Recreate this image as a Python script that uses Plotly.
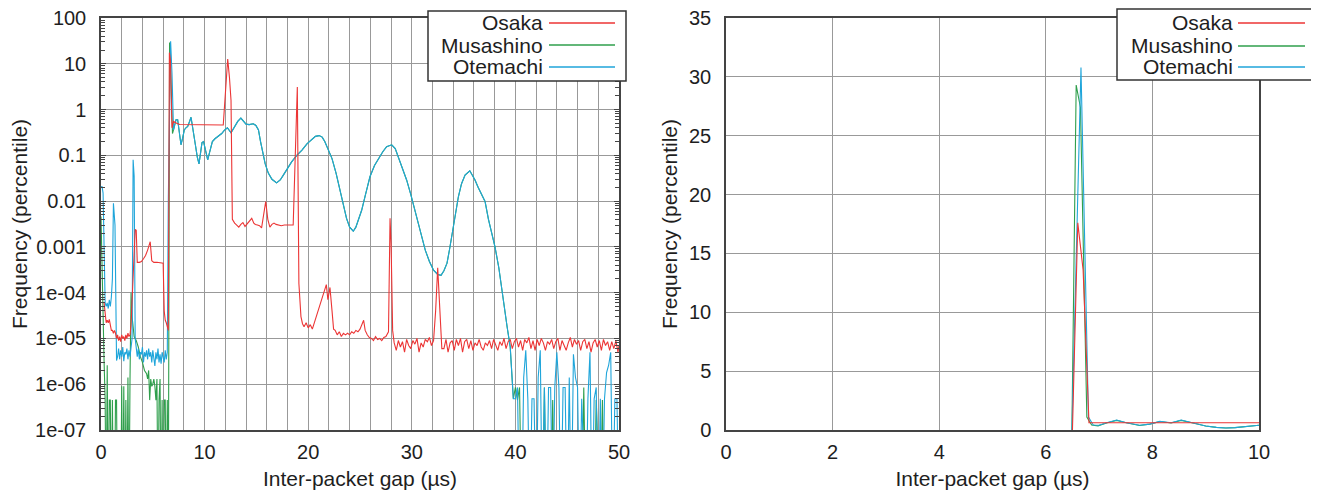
import plotly.graph_objects as go

# ---------------- data ----------------
SERIES = ["Osaka", "Musashino", "Otemachi"]
COLORS = {"Osaka": "#ec3535", "Musashino": "#2f9f4c", "Otemachi": "#1fa5da"}

# Left panel (log scale), (gap in us, frequency in percentile); 0 means "no packets"
OSAKA_LOG = [
    (0.3, 6e-5), (0.4, 4e-5), (0.5, 2.2e-5), (0.6, 2.5e-5), (0.7, 2.2e-5), (0.8, 2.6e-5),
    (0.9, 1.8e-5), (1.0, 1.5e-5), (1.1, 1.5e-5), (1.2, 1.3e-5), (1.3, 1.5e-5), (1.4, 1.3e-5),
    (1.5, 1.0e-5), (1.6, 1.2e-5), (1.7, 9e-6), (1.8, 1.1e-5), (1.9, 8.5e-6), (2.0, 1.2e-5),
    (2.1, 1.0e-5), (2.2, 1.1e-5), (2.3, 9e-6), (2.4, 1.2e-5), (2.5, 1.0e-5), (2.6, 1.3e-5),
    (2.7, 1.1e-5), (2.8, 1.2e-5), (2.9, 2e-5), (3.0, 6e-5), (3.1, 2.5e-4), (3.2, 9e-4),
    (3.3, 2.4e-3), (3.4, 2.3e-3), (3.5, 4.6e-4), (3.7, 4.6e-4), (3.9, 4.8e-4), (4.1, 5.5e-4),
    (4.3, 6.5e-4), (4.5, 8.5e-4), (4.75, 1.3e-3), (4.9, 5e-4), (5.1, 4.6e-4), (5.4, 4.6e-4),
    (5.7, 4.5e-4), (6.0, 4.4e-4), (6.1, 4e-5), (6.2, 2.5e-5), (6.3, 2.2e-5), (6.4, 1.8e-5),
    (6.5, 1.5e-5), (6.6, 17.5), (6.7, 12.0), (6.85, 0.4), (7.0, 0.55), (7.3, 0.5), (7.6, 0.47),
    (11.8, 0.46), (12.23, 12.7), (12.4, 5.0), (12.55, 1.6), (12.68, 0.004), (12.9, 0.0033),
    (13.1, 0.003), (13.3, 0.0027), (13.5, 0.0031), (13.7, 0.0034), (13.9, 0.0028), (14.1, 0.0032),
    (14.3, 0.0036), (14.55, 0.0042), (14.75, 0.0033), (14.9, 0.0031), (15.1, 0.003), (15.3, 0.0029),
    (15.5, 0.0026), (15.7, 0.005), (15.9, 0.0098), (16.1, 0.004), (16.3, 0.0027), (16.5, 0.0031),
    (16.7, 0.0033), (16.9, 0.0031), (17.1, 0.003), (17.4, 0.0029), (17.7, 0.003), (18.0, 0.003),
    (18.3, 0.0029), (18.55, 0.003), (18.95, 3.1), (19.1, 1.6e-4), (19.3, 3e-5), (19.45, 2.1e-5),
    (19.6, 1.8e-5), (19.8, 2.2e-5), (20.0, 1.7e-5), (20.2, 2.0e-5), (20.4, 1.6e-5), (20.6, 2.2e-5),
    (20.8, 3e-5), (21.0, 4.5e-5), (21.2, 6e-5), (21.4, 8e-5), (21.6, 1.1e-4), (21.75, 1.5e-4),
    (21.9, 7e-5), (22.1, 1.3e-4), (22.3, 4e-5), (22.45, 1.6e-5), (22.6, 1.5e-5), (22.8, 1.2e-5),
    (23.0, 1.4e-5), (23.2, 1.1e-5), (23.4, 1.3e-5), (23.6, 1.2e-5), (23.8, 1.3e-5), (24.0, 1.2e-5),
    (24.2, 1.4e-5), (24.4, 1.3e-5), (24.6, 1.5e-5), (24.8, 1.4e-5), (25.0, 1.6e-5), (25.2, 2.2e-5),
    (25.35, 2.5e-5), (25.5, 1.5e-5), (25.7, 1.2e-5), (25.9, 1.05e-5), (26.1, 1.0e-5), (26.3, 9e-6),
    (26.5, 1.1e-5), (26.7, 9.5e-6), (26.9, 1.0e-5), (27.1, 9e-6), (27.3, 1.05e-5), (27.5, 1.1e-5),
    (27.75, 1.4e-5), (27.9, 4.2e-3), (28.0, 1.2e-3), (28.15, 1.5e-5), (28.3, 8e-6), (28.5, 5.5e-6),
    (28.7, 9e-6), (28.9, 6.5e-6), (29.1, 8.5e-6), (29.3, 5e-6), (29.5, 9.5e-6), (29.7, 7e-6),
    (29.9, 6e-6), (30.1, 9e-6), (30.3, 7.5e-6), (30.5, 1e-5), (30.7, 5e-6), (30.9, 8e-6),
    (31.1, 6.5e-6), (31.3, 9.5e-6), (31.5, 8.5e-6), (31.7, 1.05e-5), (31.9, 7e-6), (32.1, 9e-6),
    (32.3, 4e-5), (32.5, 3.5e-4), (32.7, 5e-5), (32.9, 6e-6), (33.1, 6e-6), (33.3, 9.5e-6),
    (33.5, 5e-6), (33.7, 8e-6), (33.9, 9e-6), (34.1, 5.5e-6), (34.3, 9.5e-6), (34.5, 7e-6),
    (34.7, 1e-5), (34.9, 5e-6), (35.1, 8.5e-6), (35.3, 9.5e-6), (35.5, 6e-6), (35.7, 9e-6),
    (35.9, 5.5e-6), (36.1, 8e-6), (36.3, 7e-6), (36.5, 9.5e-6), (36.7, 6.5e-6), (36.9, 5.5e-6),
    (37.1, 8e-6), (37.3, 7e-6), (37.5, 9e-6), (37.7, 6e-6), (37.9, 9.5e-6), (38.1, 7.5e-6),
    (38.3, 5.5e-6), (38.5, 8.5e-6), (38.7, 7e-6), (38.9, 1e-5), (39.1, 6e-6), (39.3, 8.5e-6),
    (39.5, 9.5e-6), (39.7, 6e-6), (39.9, 8.5e-6), (40.1, 1e-5), (40.3, 6.5e-6), (40.5, 9e-6),
    (40.7, 5.5e-6), (40.9, 9.5e-6), (41.1, 8e-6), (41.3, 1.05e-5), (41.5, 6e-6), (41.7, 9e-6),
    (41.9, 5.5e-6), (42.1, 9.5e-6), (42.3, 7e-6), (42.5, 1e-5), (42.7, 8e-6), (42.9, 5.5e-6),
    (43.1, 8.5e-6), (43.3, 7.5e-6), (43.5, 9.5e-6), (43.7, 6e-6), (43.9, 8.5e-6), (44.1, 1e-5),
    (44.3, 5.5e-6), (44.5, 9e-6), (44.7, 7e-6), (44.9, 5.5e-6), (45.1, 8e-6), (45.3, 1.05e-5),
    (45.5, 6.5e-6), (45.7, 9.5e-6), (45.9, 7.5e-6), (46.1, 9e-6), (46.3, 5.5e-6), (46.5, 8.5e-6),
    (46.7, 9.5e-6), (46.9, 6e-6), (47.1, 8.5e-6), (47.3, 5e-6), (47.5, 8e-6), (47.7, 9.5e-6),
    (47.9, 6.5e-6), (48.1, 9e-6), (48.3, 5.5e-6), (48.5, 9.5e-6), (48.7, 7e-6), (48.9, 8.5e-6),
    (49.1, 5.5e-6), (49.3, 8.5e-6), (49.5, 6e-6), (49.7, 9e-6), (49.9, 5e-6), (50.0, 7e-6),
]

MUSASHINO_HEAD = [
    (0.0, 4.6e-3), (0.1, 2e-4), (0.2, 2e-5), (0.3, 3e-6), (0.4, 4.5e-7), (0.5, 0), (0.6, 2.6e-6),
    (0.7, 0), (0.8, 4.5e-7), (0.9, 4.5e-7), (1.0, 0), (1.1, 4.5e-7), (1.2, 0), (1.3, 0),
    (1.4, 4.5e-7), (1.5, 4.5e-7), (1.6, 0), (1.9, 0), (2.0, 9e-7), (2.1, 0), (2.2, 9e-7), (2.3, 0),
    (2.4, 4.5e-7), (2.5, 0), (2.6, 1.4e-6), (2.7, 0), (2.8, 1.3e-6), (2.9, 1e-4), (3.0, 3e-5),
    (3.2, 1.1e-5), (3.4, 9e-6), (3.6, 6.5e-6), (3.8, 4e-6), (4.0, 3e-6), (4.2, 2e-6), (4.4, 1.7e-6),
    (4.5, 1.3e-6), (4.6, 2e-6), (4.7, 4.5e-7), (4.8, 1.3e-6), (4.9, 9e-7), (5.0, 1e-6), (5.1, 1.3e-6),
    (5.2, 9e-7), (5.3, 4.5e-7), (5.4, 1.3e-6), (5.5, 0), (5.6, 4.5e-7), (5.7, 1.3e-6), (5.8, 0),
    (5.9, 4.5e-7), (6.0, 0), (6.1, 4.5e-7), (6.2, 4.5e-7), (6.3, 0), (6.4, 4.5e-7), (6.5, 0),
    (6.62, 29.0), (6.75, 5.0), (6.9, 0.3),
]

OTEMACHI_HEAD = [
    (0.0, 0.02), (0.1, 0.021), (0.2, 0.015), (0.3, 2e-4), (0.4, 6e-5), (0.5, 5e-5), (0.6, 6e-5),
    (0.7, 4.5e-5), (0.8, 7e-5), (0.9, 5e-5), (1.0, 8e-5), (1.1, 2e-4), (1.2, 9e-3), (1.35, 3e-3),
    (1.45, 1e-4), (1.5, 3.3e-6), (1.6, 4e-6), (1.7, 6e-6), (1.8, 3.5e-6), (1.9, 5.5e-6), (2.0, 4e-6),
    (2.1, 6.5e-6), (2.2, 3.2e-6), (2.3, 5e-6), (2.4, 4.5e-6), (2.5, 6e-6), (2.6, 3.5e-6), (2.7, 5.5e-6),
    (2.8, 4e-6), (2.9, 6e-6), (3.0, 1e-5), (3.1, 0.08), (3.2, 0.035), (3.3, 1e-5), (3.4, 5e-6),
    (3.5, 4e-6), (3.6, 6e-6), (3.7, 3.5e-6), (3.8, 5e-6), (3.9, 4.5e-6), (4.0, 6.5e-6), (4.1, 3e-6),
    (4.2, 5e-6), (4.3, 4e-6), (4.4, 5.5e-6), (4.5, 3.5e-6), (4.6, 6e-6), (4.7, 4e-6), (4.8, 5e-6),
    (4.9, 3e-6), (5.0, 5.5e-6), (5.1, 4e-6), (5.2, 2.5e-6), (5.3, 5e-6), (5.4, 3.5e-6), (5.5, 6e-6),
    (5.6, 3e-6), (5.7, 4.5e-6), (5.8, 2.8e-6), (5.9, 5e-6), (6.0, 4e-6), (6.1, 3e-6), (6.2, 5.5e-6),
    (6.3, 3.5e-6), (6.4, 5e-6), (6.5, 0.012), (6.72, 31.0), (6.85, 6.3),
]

# smooth lobe shared by Musashino and Otemachi (the two curves coincide)
SHARED_LOBE = [
    (7.0, 0.36), (7.24, 0.6), (7.4, 0.6), (7.55, 0.35), (7.72, 0.17), (7.9, 0.25), (8.04, 0.36),
    (8.2, 0.4), (8.37, 0.43), (8.55, 0.55), (8.69, 0.68), (8.85, 0.4), (9.07, 0.18), (9.3, 0.09),
    (9.46, 0.065), (9.6, 0.11), (9.75, 0.19), (9.9, 0.2), (10.1, 0.12), (10.3, 0.08), (10.5, 0.12),
    (10.75, 0.2), (11.0, 0.23), (11.3, 0.26), (11.65, 0.3), (11.9, 0.35), (12.2, 0.4), (12.55, 0.31),
    (12.9, 0.42), (13.2, 0.55), (13.5, 0.65), (13.75, 0.55), (14.0, 0.48), (14.3, 0.47), (14.7, 0.49),
    (14.95, 0.45), (15.2, 0.36), (15.4, 0.2), (15.6, 0.11), (15.85, 0.065), (16.15, 0.041),
    (16.5, 0.03), (16.95, 0.025), (17.3, 0.029), (17.6, 0.037), (18.0, 0.052), (18.4, 0.072),
    (18.9, 0.1), (19.4, 0.13), (19.9, 0.18), (20.3, 0.22), (20.7, 0.26), (21.05, 0.27), (21.35, 0.25),
    (21.6, 0.2), (21.95, 0.13), (22.3, 0.085), (22.7, 0.04), (23.1, 0.017), (23.4, 0.0085),
    (23.7, 0.0042), (24.0, 0.0027), (24.35, 0.0022), (24.6, 0.0027), (24.85, 0.0039), (25.16, 0.0063),
    (25.5, 0.013), (25.96, 0.034), (26.4, 0.06), (26.77, 0.085), (27.2, 0.12), (27.57, 0.155),
    (28.06, 0.17), (28.4, 0.14), (28.7, 0.093), (29.1, 0.05), (29.5, 0.029), (29.9, 0.014),
    (30.3, 0.0063), (30.8, 0.0024), (31.3, 0.00085), (31.7, 0.00048), (32.1, 0.00031),
    (32.5, 0.00025), (32.82, 0.00024), (33.1, 0.0003), (33.4, 0.00044), (33.65, 0.0009),
    (33.85, 0.0017), (34.2, 0.005), (34.5, 0.0126), (34.8, 0.024), (35.14, 0.037), (35.6, 0.046),
    (36.1, 0.029), (36.4, 0.02), (36.75, 0.0137), (37.07, 0.0098), (37.4, 0.004), (37.7, 0.002),
    (38.03, 0.001), (38.4, 0.00035), (38.85, 5.7e-5), (39.2, 1.8e-5), (39.5, 6.5e-6), (39.8, 4.8e-7),
]

MUSASHINO_TAIL = [
    (40.0, 8.5e-7), (40.2, 4.5e-7), (40.4, 8.5e-7), (40.6, 0), (42.6, 0), (42.8, 8.5e-7), (43.0, 0),
    (43.4, 0), (43.6, 4.5e-7), (43.8, 0), (46.4, 0), (46.6, 8.5e-7), (46.8, 0), (47.6, 0),
    (47.8, 4.5e-7), (48.0, 0), (48.2, 0), (48.4, 4.5e-7), (48.6, 0), (50.0, 0),
]

OTEMACHI_TAIL = [
    (40.0, 4.8e-7), (40.2, 8.5e-7), (40.4, 0), (40.6, 0), (40.8, 1.4e-6), (41.0, 5.5e-6),
    (41.2, 4.8e-7), (41.4, 0), (41.6, 4.8e-7), (41.8, 4.8e-7), (42.0, 0), (42.2, 1.4e-6),
    (42.4, 5.5e-6), (42.6, 0), (42.8, 8.5e-7), (43.0, 0), (43.2, 8.5e-7), (43.4, 8.5e-7), (43.6, 0),
    (43.8, 8.5e-7), (44.0, 5e-6), (44.2, 8.5e-7), (44.4, 0), (44.6, 8.5e-7), (44.8, 8.5e-7),
    (45.0, 0), (45.2, 1.4e-6), (45.4, 0), (45.6, 4.5e-6), (45.8, 1.4e-6), (46.0, 8.5e-7), (46.2, 0),
    (46.4, 4.8e-7), (46.6, 0), (46.8, 0), (47.0, 4.8e-7), (47.2, 5e-6), (47.4, 0), (47.6, 4.8e-7),
    (47.8, 8.5e-7), (48.0, 0), (48.2, 4.8e-7), (48.4, 0), (48.6, 4.8e-7), (48.8, 1.8e-6),
    (49.0, 2.6e-6), (49.2, 5e-6), (49.4, 0), (49.6, 4.8e-7), (49.8, 4.8e-7), (50.0, 0),
]

MUSASHINO_LOG = MUSASHINO_HEAD + SHARED_LOBE + MUSASHINO_TAIL
OTEMACHI_LOG = OTEMACHI_HEAD + SHARED_LOBE + OTEMACHI_TAIL

# Right panel (linear scale, 0-10 us); values before the main peak are ~0
OSAKA_LIN = [(6.5, 0), (6.6, 17.6), (6.65, 15.6), (6.7, 13.6), (6.81, 0.62), (10.0, 0.62)]
MUSASHINO_LIN = [
    (6.49, 0), (6.57, 29.3), (6.65, 27.4), (6.77, 1.1), (6.86, 0.42), (6.98, 0.35),
    (7.14, 0.6), (7.33, 0.82), (7.51, 0.62), (7.76, 0.38), (7.95, 0.5), (8.14, 0.72), (8.35, 0.6),
    (8.54, 0.82), (8.76, 0.6), (9.0, 0.34), (9.2, 0.22), (9.38, 0.17), (9.55, 0.2), (9.7, 0.28),
    (10.0, 0.4),
]
OTEMACHI_LIN = [
    (6.49, 0), (6.66, 30.8), (6.8, 1.1), (6.89, 0.42), (7.0, 0.4), (7.14, 0.62),
    (7.33, 0.85), (7.51, 0.62), (7.76, 0.4), (7.95, 0.5), (8.14, 0.73), (8.35, 0.62), (8.54, 0.85),
    (8.76, 0.62), (9.0, 0.34), (9.2, 0.22), (9.38, 0.17), (9.55, 0.2), (9.7, 0.28), (10.0, 0.4),
]

LOG_TICK_VALUES = [100, 10, 1, 0.1, 0.01, 0.001, 1e-4, 1e-5, 1e-6, 1e-7]
LOG_TICK_TEXT = ["100", "10", "1", "0.1", "0.01", "0.001", "1e-04", "1e-05", "1e-06", "1e-07"]

# ---------------- figure ----------------
# The page body keeps its default 8 px margin, so the figure is laid out in screen pixels
# shifted by that offset.
OFF = 8
W, H = 1319 - OFF, 492 - OFF
FLOOR = 1e-9  # empty bins drop to the bottom of the log axis
FONT = "Liberation Sans, Arial, Helvetica, sans-serif"
GRID = "#999999"
FRAME = "#444444"
TXT = "#1e1e1e"


def fx(sx):
    return (sx - OFF) / W


def fy(sy):
    return 1 - (sy - OFF) / H


def xs(pairs):
    return [p[0] for p in pairs]


def ys(pairs, floor=None):
    if floor is None:
        return [p[1] for p in pairs]
    return [p[1] if p[1] > 0 else floor for p in pairs]


fig = go.Figure()
left = {"Osaka": OSAKA_LOG, "Musashino": MUSASHINO_LOG, "Otemachi": OTEMACHI_LOG}
right = {"Osaka": OSAKA_LIN, "Musashino": MUSASHINO_LIN, "Otemachi": OTEMACHI_LIN}
for name in ["Musashino", "Otemachi", "Osaka"]:
    fig.add_trace(go.Scatter(x=xs(left[name]), y=ys(left[name], FLOOR), mode="lines", name=name,
                             line=dict(color=COLORS[name], width=1.1), xaxis="x", yaxis="y",
                             showlegend=False))
for name in ["Musashino", "Otemachi", "Osaka"]:
    fig.add_trace(go.Scatter(x=xs(right[name]), y=ys(right[name]), mode="lines", name=name,
                             line=dict(color=COLORS[name], width=1.1), xaxis="x2", yaxis="y2",
                             showlegend=False))

minor_log = [m * 10 ** e for e in range(-7, 2) for m in range(2, 10)]

axis_common = dict(showline=True, linecolor=FRAME, linewidth=1.5, mirror=True, showgrid=True,
                   gridcolor=GRID, gridwidth=1, zeroline=False, automargin=False,
                   ticklabeloverflow="allow",
                   tickfont=dict(family=FONT, size=20, color=TXT),
                   title_font=dict(family=FONT, size=21, color=TXT))

y_dom = [fy(430), fy(18)]
fig.update_layout(
    width=W, height=H, margin=dict(l=0, r=0, t=0, b=0),
    paper_bgcolor="white", plot_bgcolor="white", showlegend=False,
    xaxis=dict(axis_common, domain=[fx(101), fx(619)], range=[0, 50], anchor="y",
               tickmode="array", tickvals=[0, 10, 20, 30, 40, 50], ticks="",
               minor=dict(dtick=2, showgrid=True, gridcolor=GRID, gridwidth=1),
               ticklabelstandoff=3,
               title=dict(text="Inter-packet gap (µs)", standoff=10)),
    yaxis=dict(axis_common, type="log", domain=y_dom, range=[-7, 2], anchor="x",
               tickmode="array", tickvals=LOG_TICK_VALUES, ticktext=LOG_TICK_TEXT,
               ticks="inside", ticklen=5, tickcolor=FRAME, mirror="allticks",
               minor=dict(tickmode="array", tickvals=minor_log, ticks="inside", ticklen=4,
                          tickcolor=FRAME, showgrid=False),
               ticklabelstandoff=9,
               title=dict(text="Frequency (percentile)", standoff=4)),
    xaxis2=dict(axis_common, domain=[fx(726), fx(1259)], range=[0, 10], anchor="y2",
                tickmode="linear", tick0=0, dtick=2, ticks="", ticklabelstandoff=3,
                title=dict(text="Inter-packet gap (µs)", standoff=10)),
    yaxis2=dict(axis_common, domain=y_dom, range=[0, 35], anchor="x2",
                tickmode="linear", tick0=0, dtick=5, ticks="", ticklabelstandoff=9,
                title=dict(text="Frequency (percentile)", standoff=6)),
)

# ---------------- legends (boxed, text right-aligned, sample on the right) ----------------
def add_legend(box, text_right, line_x, rows):
    x0, y0, x1, y1 = box
    fig.add_shape(type="rect", xref="paper", yref="paper", x0=fx(x0), x1=fx(x1),
                  y0=fy(y1), y1=fy(y0), fillcolor="white",
                  line=dict(color="#333", width=1.5), layer="above")
    for name, ry in zip(SERIES, rows):
        fig.add_shape(type="line", xref="paper", yref="paper", x0=fx(line_x[0]), x1=fx(line_x[1]),
                      y0=fy(ry), y1=fy(ry), line=dict(color=COLORS[name], width=1.3),
                      layer="above")
        fig.add_annotation(text=name, xref="paper", yref="paper", x=fx(text_right), y=fy(ry),
                           xanchor="right", yanchor="middle", showarrow=False,
                           font=dict(family=FONT, size=21, color=TXT))


add_legend((428, 11, 626, 81), 545, (549, 615), (23, 45, 67))
add_legend((1117, 9, 1315, 80), 1235, (1238, 1305), (23, 46, 67))

fig.write_html("out.html")
